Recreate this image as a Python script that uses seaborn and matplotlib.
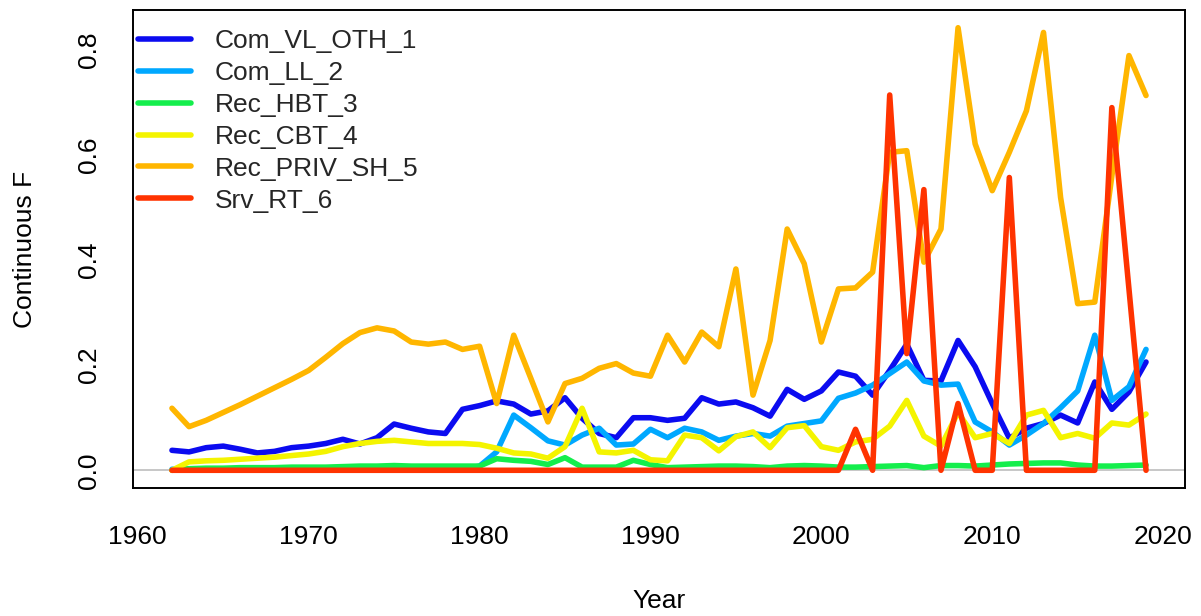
import numpy as np
import pandas as pd
import matplotlib
matplotlib.use("Agg")
import matplotlib.pyplot as plt
import seaborn as sns
from matplotlib.lines import Line2D

years = list(range(1962, 2020))

fleets = ["Com_VL_OTH_1", "Com_LL_2", "Rec_HBT_3", "Rec_CBT_4", "Rec_PRIV_SH_5", "Srv_RT_6"]
colors = ["#0B0BF0", "#00A8FF", "#14EE4C", "#F4F400", "#FFB600", "#FF3300"]

com_vl_oth_1 = [0.038, 0.035, 0.043, 0.046, 0.040, 0.033, 0.036, 0.043, 0.046, 0.051,
                0.059, 0.050, 0.062, 0.088, 0.080, 0.073, 0.070, 0.116, 0.123, 0.132,
                0.126, 0.107, 0.113, 0.138, 0.099, 0.070, 0.062, 0.100, 0.100, 0.095,
                0.099, 0.138, 0.126, 0.130, 0.119, 0.103, 0.154, 0.135, 0.151, 0.187,
                0.179, 0.143, 0.190, 0.240, 0.171, 0.170, 0.247, 0.197, 0.127, 0.061,
                0.080, 0.089, 0.105, 0.090, 0.168, 0.116, 0.149, 0.206]
com_ll_2 = [0.002, 0.002, 0.002, 0.002, 0.002, 0.002, 0.002, 0.002, 0.002, 0.002,
            0.002, 0.002, 0.002, 0.002, 0.002, 0.002, 0.002, 0.002, 0.008, 0.035,
            0.105, 0.081, 0.056, 0.048, 0.067, 0.080, 0.048, 0.050, 0.078, 0.062,
            0.080, 0.073, 0.057, 0.065, 0.070, 0.065, 0.084, 0.089, 0.094, 0.137,
            0.147, 0.162, 0.184, 0.206, 0.170, 0.162, 0.164, 0.092, 0.073, 0.048,
            0.067, 0.089, 0.119, 0.151, 0.257, 0.133, 0.159, 0.230]
rec_hbt_3 = [0.000, 0.003, 0.004, 0.004, 0.005, 0.005, 0.005, 0.006, 0.006, 0.006,
             0.007, 0.008, 0.008, 0.009, 0.008, 0.008, 0.008, 0.008, 0.008, 0.022,
             0.019, 0.017, 0.011, 0.024, 0.006, 0.006, 0.006, 0.019, 0.011, 0.005,
             0.006, 0.007, 0.008, 0.008, 0.007, 0.005, 0.008, 0.009, 0.008, 0.006,
             0.006, 0.007, 0.008, 0.009, 0.005, 0.009, 0.009, 0.008, 0.010, 0.012,
             0.013, 0.014, 0.014, 0.010, 0.008, 0.008, 0.009, 0.010]
rec_cbt_4 = [0.000, 0.016, 0.018, 0.019, 0.021, 0.023, 0.025, 0.028, 0.031, 0.036,
             0.045, 0.051, 0.055, 0.057, 0.054, 0.051, 0.051, 0.051, 0.049, 0.042,
             0.033, 0.031, 0.023, 0.045, 0.118, 0.035, 0.033, 0.038, 0.020, 0.018,
             0.067, 0.062, 0.037, 0.064, 0.073, 0.043, 0.081, 0.085, 0.045, 0.038,
             0.054, 0.059, 0.084, 0.133, 0.065, 0.046, 0.110, 0.062, 0.070, 0.051,
             0.105, 0.114, 0.062, 0.070, 0.061, 0.090, 0.086, 0.107]
rec_priv_sh_5 = [0.118, 0.083, 0.095, 0.110, 0.125, 0.141, 0.157, 0.173, 0.190, 0.215,
                 0.241, 0.262, 0.271, 0.265, 0.244, 0.240, 0.244, 0.230, 0.236, 0.127,
                 0.257, 0.175, 0.092, 0.165, 0.175, 0.194, 0.203, 0.185, 0.179, 0.257,
                 0.206, 0.263, 0.235, 0.383, 0.143, 0.247, 0.459, 0.393, 0.244, 0.345,
                 0.347, 0.377, 0.605, 0.608, 0.396, 0.459, 0.842, 0.621, 0.532, 0.605,
                 0.684, 0.833, 0.519, 0.317, 0.320, 0.560, 0.789, 0.713]
srv_rt_6 = [0.0] * 40 + [0.078, 0.000, 0.714, 0.222, 0.534, 0.000, 0.127, 0.000, 0.000, 0.557,
                         0.000, 0.000, 0.000, 0.000, 0.000, 0.690, 0.345, 0.000]

series = [com_vl_oth_1, com_ll_2, rec_hbt_3, rec_cbt_4, rec_priv_sh_5, srv_rt_6]

df = pd.concat([pd.DataFrame({"Year": years, "F": vals, "Fleet": name})
                for name, vals in zip(fleets, series)], ignore_index=True)

sns.set_theme(style="white")
plt.rcParams['font.family'] = ['Liberation Sans', 'DejaVu Sans']

W, H = 1201, 616
fig = plt.figure(figsize=(W / 100, H / 100), dpi=100)
L, R, T, B = 133, 1185, 10, 488
ax = fig.add_axes([L / W, 1 - B / H, (R - L) / W, (B - T) / H])

ax.axhline(0, color="#BEBEBE", lw=1.2, zorder=0)
sns.lineplot(data=df, x="Year", y="F", hue="Fleet", hue_order=fleets,
             palette=colors, lw=4.0, ax=ax, legend=False,
             solid_capstyle="round", solid_joinstyle="round")

ax.set_xlim(1959.72, 2021.28)
ax.set_ylim(-0.0337, 0.8757)
ax.set_xticks([1960, 1970, 1980, 1990, 2000, 2010, 2020])
ax.set_yticks([0.0, 0.2, 0.4, 0.6, 0.8])
ax.set_yticklabels(["0.0", "0.2", "0.4", "0.6", "0.8"])
ax.tick_params(axis="both", direction="out", length=11, width=1.4,
               color="black", labelsize=19, labelcolor="black")
ax.tick_params(axis="x", pad=16)
ax.tick_params(axis="y", pad=12)
plt.setp(ax.get_yticklabels(), rotation=90, va="center")

for s in ax.spines.values():
    s.set_visible(True)
    s.set_color("black")
    s.set_linewidth(1.4)

ax.set_xlabel("Year", fontsize=19, color="black")
ax.set_ylabel("Continuous F", fontsize=19, color="black")
ax.xaxis.set_label_coords(0.5, (B - 601) / (B - T))
ax.xaxis.label.set_va("center")
ax.yaxis.set_label_coords((25 - L) / (R - L), 0.5)
ax.yaxis.label.set_va("center")
ax.yaxis.label.set_ha("center")
ax.yaxis.label.set_rotation_mode("anchor")
ax.xaxis.label.set_rotation_mode("anchor")

handles = [Line2D([0], [0], color=c, lw=4.0, solid_capstyle="round") for c in colors]
ax.legend(handles, fleets, loc="upper left",
          bbox_to_anchor=((138 - L) / (R - L), (B - 29) / (B - T)),
          frameon=False, fontsize=19, handlelength=2.0, handletextpad=0.9,
          labelspacing=0.3, borderpad=0, borderaxespad=0)

fig.savefig("out.png", dpi=100)
